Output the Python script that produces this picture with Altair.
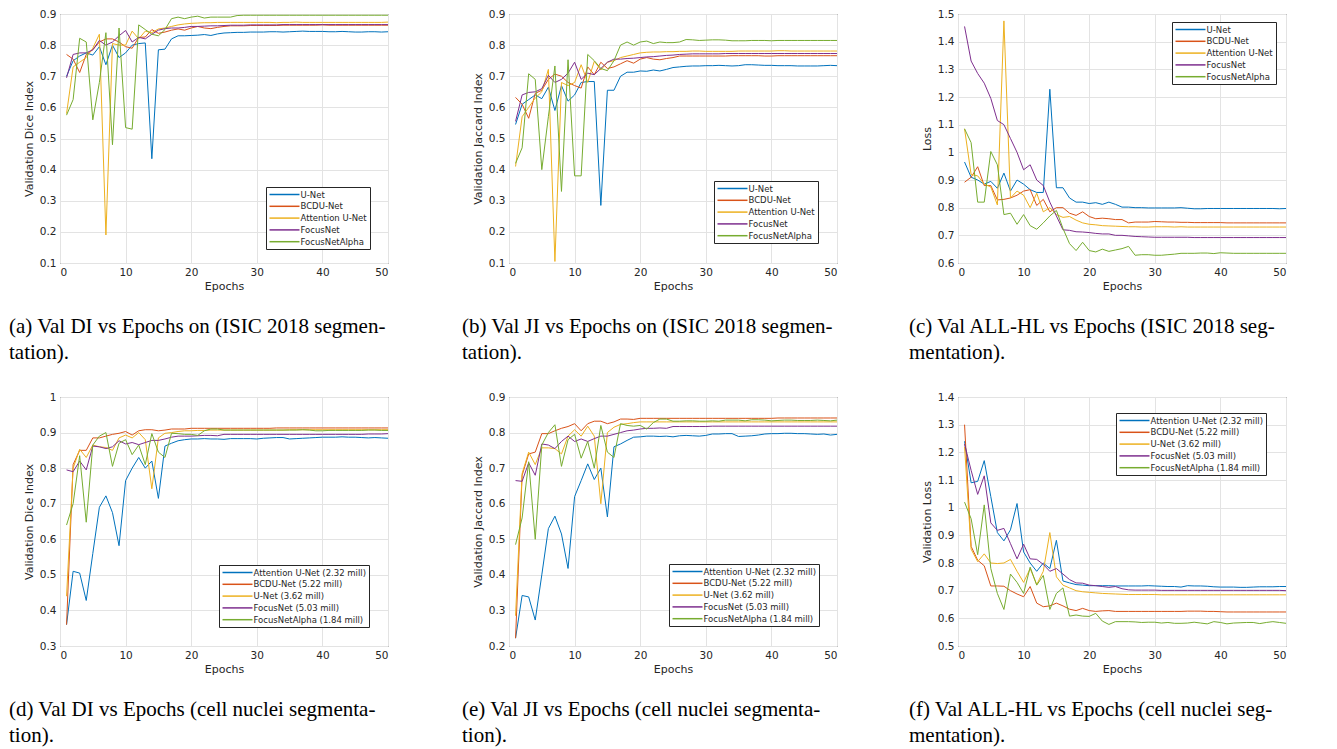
import altair as alt
import pandas as pd

epochs = list(range(1, 51))

# ---------------- (a) Val DI, ISIC 2018 ----------------
A_names = ["U-Net", "BCDU-Net", "Attention U-Net", "FocusNet", "FocusNetAlpha"]
A_unet = [0.70, 0.75, 0.765, 0.775, 0.768, 0.795, 0.737, 0.80, 0.76, 0.775,
          0.80, 0.805, 0.807, 0.435, 0.785, 0.787, 0.82, 0.83, 0.83, 0.831,
          0.832, 0.834, 0.831, 0.836, 0.839, 0.840, 0.841, 0.841, 0.842, 0.842,
          0.842, 0.843, 0.843, 0.842, 0.843, 0.844, 0.845, 0.844, 0.844, 0.844,
          0.843, 0.843, 0.844, 0.843, 0.842, 0.842, 0.843, 0.843, 0.842, 0.843]
A_bcdu = [0.77, 0.755, 0.712, 0.77, 0.785, 0.81, 0.82, 0.82, 0.81, 0.795,
          0.79, 0.825, 0.826, 0.85, 0.838, 0.842, 0.848, 0.852, 0.848, 0.855,
          0.86, 0.855, 0.853, 0.857, 0.86, 0.862, 0.862, 0.862, 0.863, 0.863,
          0.863, 0.863, 0.863, 0.864, 0.864, 0.864, 0.864, 0.864, 0.864, 0.865,
          0.864, 0.864, 0.864, 0.864, 0.864, 0.864, 0.864, 0.864, 0.864, 0.864]
A_att = [0.58, 0.73, 0.745, 0.76, 0.79, 0.835, 0.19, 0.805, 0.80, 0.80,
         0.845, 0.82, 0.845, 0.84, 0.852, 0.855, 0.86, 0.865, 0.868, 0.87,
         0.871, 0.872, 0.872, 0.873, 0.873, 0.873, 0.873, 0.873, 0.873, 0.873,
         0.873, 0.873, 0.872, 0.873, 0.873, 0.874, 0.873, 0.873, 0.873, 0.873,
         0.873, 0.873, 0.873, 0.873, 0.873, 0.873, 0.873, 0.873, 0.873, 0.874]
A_focus = [0.695, 0.77, 0.775, 0.775, 0.785, 0.815, 0.80, 0.81, 0.83, 0.847,
           0.81, 0.825, 0.82, 0.835, 0.848, 0.853, 0.855, 0.855, 0.857, 0.86,
           0.86, 0.861, 0.862, 0.862, 0.863, 0.864, 0.864, 0.864, 0.865, 0.865,
           0.865, 0.865, 0.865, 0.866, 0.866, 0.866, 0.866, 0.866, 0.866, 0.866,
           0.866, 0.866, 0.866, 0.866, 0.866, 0.866, 0.866, 0.866, 0.866, 0.866]
A_alpha = [0.575, 0.625, 0.822, 0.81, 0.56, 0.68, 0.84, 0.48, 0.855, 0.535,
           0.53, 0.865, 0.85, 0.835, 0.83, 0.85, 0.885, 0.89, 0.885, 0.89,
           0.893, 0.887, 0.89, 0.89, 0.89, 0.89, 0.895, 0.896, 0.896, 0.896,
           0.896, 0.896, 0.896, 0.896, 0.896, 0.896, 0.896, 0.896, 0.896, 0.896,
           0.896, 0.896, 0.896, 0.896, 0.896, 0.896, 0.896, 0.896, 0.896, 0.896]

# ---------------- (b) Val JI, ISIC 2018 ----------------
B_names = ["U-Net", "BCDU-Net", "Attention U-Net", "FocusNet", "FocusNetAlpha"]
B_unet = [0.545, 0.61, 0.625, 0.64, 0.628, 0.665, 0.59, 0.67, 0.62, 0.64,
          0.68, 0.683, 0.683, 0.285, 0.655, 0.655, 0.70, 0.713, 0.713, 0.717,
          0.716, 0.72, 0.717, 0.722, 0.728, 0.73, 0.732, 0.733, 0.733, 0.734,
          0.734, 0.735, 0.734, 0.733, 0.734, 0.737, 0.737, 0.736, 0.735, 0.735,
          0.734, 0.734, 0.734, 0.733, 0.733, 0.733, 0.733, 0.734, 0.735, 0.734]
B_bcdu = [0.632, 0.61, 0.565, 0.645, 0.655, 0.69, 0.707, 0.70, 0.68, 0.67,
          0.662, 0.73, 0.705, 0.745, 0.725, 0.73, 0.74, 0.75, 0.742, 0.755,
          0.76, 0.755, 0.753, 0.757, 0.76, 0.765, 0.765, 0.765, 0.765, 0.765,
          0.765, 0.765, 0.765, 0.766, 0.766, 0.766, 0.766, 0.766, 0.765, 0.765,
          0.766, 0.766, 0.766, 0.766, 0.766, 0.766, 0.766, 0.766, 0.766, 0.766]
B_att = [0.41, 0.57, 0.60, 0.63, 0.65, 0.722, 0.105, 0.68, 0.67, 0.68,
         0.737, 0.68, 0.748, 0.72, 0.745, 0.75, 0.76, 0.765, 0.77, 0.775,
         0.777, 0.778, 0.778, 0.779, 0.779, 0.78, 0.78, 0.781, 0.781, 0.78,
         0.78, 0.78, 0.78, 0.78, 0.781, 0.781, 0.781, 0.781, 0.781, 0.781,
         0.782, 0.782, 0.781, 0.781, 0.781, 0.781, 0.781, 0.781, 0.781, 0.781]
B_focus = [0.555, 0.64, 0.648, 0.65, 0.66, 0.703, 0.68, 0.69, 0.71, 0.745,
           0.69, 0.71, 0.705, 0.725, 0.745, 0.755, 0.755, 0.757, 0.758, 0.76,
           0.762, 0.763, 0.765, 0.767, 0.768, 0.77, 0.771, 0.772, 0.772, 0.772,
           0.772, 0.772, 0.773, 0.773, 0.773, 0.773, 0.773, 0.773, 0.773, 0.773,
           0.773, 0.773, 0.773, 0.773, 0.773, 0.773, 0.773, 0.773, 0.773, 0.773]
B_alpha = [0.42, 0.47, 0.708, 0.69, 0.40, 0.57, 0.733, 0.33, 0.753, 0.38,
           0.38, 0.77, 0.75, 0.725, 0.718, 0.75, 0.80, 0.81, 0.80, 0.81,
           0.813, 0.805, 0.81, 0.808, 0.808, 0.81, 0.818, 0.817, 0.815, 0.816,
           0.817, 0.817, 0.816, 0.814, 0.814, 0.814, 0.815, 0.815, 0.815, 0.814,
           0.815, 0.815, 0.815, 0.815, 0.815, 0.815, 0.815, 0.815, 0.815, 0.815]

# ---------------- (c) Val loss, ISIC 2018 ----------------
C_names = ["U-Net", "BCDU-Net", "Attention U-Net", "FocusNet", "FocusNetAlpha"]
C_unet = [0.965, 0.91, 0.90, 0.885, 0.895, 0.87, 0.925, 0.86, 0.90, 0.885,
          0.865, 0.855, 0.855, 1.228, 0.872, 0.872, 0.835, 0.82, 0.82, 0.815,
          0.818, 0.812, 0.82, 0.812, 0.802, 0.802, 0.80, 0.80, 0.799, 0.799,
          0.799, 0.799, 0.799, 0.80, 0.798, 0.796, 0.796, 0.797, 0.797, 0.797,
          0.797, 0.797, 0.797, 0.797, 0.797, 0.797, 0.797, 0.797, 0.796, 0.797]
C_bcdu = [0.892, 0.91, 0.948, 0.88, 0.88, 0.828, 0.83, 0.835, 0.845, 0.86,
          0.865, 0.808, 0.83, 0.785, 0.80, 0.80, 0.78, 0.772, 0.785, 0.768,
          0.76, 0.762, 0.76, 0.757, 0.757, 0.745, 0.748, 0.748, 0.748, 0.75,
          0.749, 0.748, 0.748, 0.747, 0.747, 0.746, 0.746, 0.746, 0.746, 0.746,
          0.745, 0.745, 0.745, 0.745, 0.745, 0.745, 0.745, 0.745, 0.745, 0.745]
C_att = [1.085, 0.92, 0.915, 0.885, 0.875, 0.81, 1.475, 0.835, 0.86, 0.845,
         0.80, 0.852, 0.785, 0.80, 0.775, 0.765, 0.768, 0.755, 0.745, 0.74,
         0.738, 0.735, 0.734, 0.733, 0.732, 0.731, 0.731, 0.73, 0.73, 0.731,
         0.731, 0.731, 0.73, 0.731, 0.73, 0.73, 0.73, 0.73, 0.73, 0.73,
         0.73, 0.73, 0.73, 0.73, 0.73, 0.73, 0.73, 0.73, 0.73, 0.73]
C_focus = [1.455, 1.33, 1.285, 1.25, 1.195, 1.115, 1.10, 1.05, 1.00, 0.937,
           0.955, 0.90, 0.88, 0.82, 0.77, 0.72, 0.718, 0.713, 0.712, 0.71,
           0.707, 0.705, 0.705, 0.70, 0.70, 0.698, 0.696, 0.695, 0.694, 0.693,
           0.693, 0.693, 0.693, 0.693, 0.693, 0.692, 0.692, 0.692, 0.692, 0.692,
           0.692, 0.692, 0.692, 0.692, 0.692, 0.692, 0.692, 0.692, 0.692, 0.692]
C_alpha = [1.085, 1.035, 0.82, 0.82, 1.003, 0.955, 0.775, 0.78, 0.74, 0.775,
           0.735, 0.722, 0.745, 0.77, 0.79, 0.725, 0.67, 0.645, 0.675, 0.645,
           0.64, 0.65, 0.642, 0.647, 0.652, 0.66, 0.628, 0.63, 0.63, 0.628,
           0.628, 0.63, 0.632, 0.635, 0.635, 0.635, 0.636, 0.636, 0.634, 0.637,
           0.636, 0.635, 0.635, 0.635, 0.635, 0.635, 0.635, 0.635, 0.635, 0.635]

# ---------------- (d) Val DI, cell nuclei ----------------
D_names = ["Attention U-Net (2.32 mill)", "BCDU-Net (5.22 mill)", "U-Net (3.62 mill)",
           "FocusNet (5.03 mill)", "FocusNetAlpha (1.84 mill)"]
D_att = [0.36, 0.51, 0.505, 0.428, 0.56, 0.69, 0.722, 0.675, 0.582, 0.765,
         0.80, 0.83, 0.80, 0.82, 0.715, 0.862, 0.87, 0.877, 0.88, 0.882,
         0.882, 0.883, 0.882, 0.882, 0.881, 0.883, 0.883, 0.883, 0.883, 0.882,
         0.884, 0.885, 0.886, 0.886, 0.882, 0.883, 0.884, 0.885, 0.886, 0.887,
         0.887, 0.887, 0.888, 0.887, 0.887, 0.886, 0.885, 0.886, 0.885, 0.884]
D_bcdu = [0.36, 0.81, 0.85, 0.85, 0.885, 0.885, 0.89, 0.895, 0.898, 0.903,
          0.893, 0.905, 0.908, 0.908, 0.905, 0.907, 0.91, 0.91, 0.91, 0.912,
          0.912, 0.912, 0.912, 0.912, 0.912, 0.912, 0.912, 0.912, 0.912, 0.912,
          0.912, 0.912, 0.913, 0.913, 0.913, 0.913, 0.913, 0.913, 0.913, 0.913,
          0.913, 0.913, 0.913, 0.913, 0.913, 0.913, 0.913, 0.913, 0.913, 0.913]
D_unet = [0.44, 0.80, 0.853, 0.83, 0.865, 0.86, 0.858, 0.85, 0.885, 0.893,
          0.885, 0.90, 0.88, 0.742, 0.885, 0.898, 0.90, 0.903, 0.905, 0.905,
          0.906, 0.906, 0.907, 0.907, 0.907, 0.907, 0.907, 0.907, 0.907, 0.907,
          0.907, 0.907, 0.907, 0.907, 0.908, 0.908, 0.908, 0.908, 0.908, 0.908,
          0.908, 0.908, 0.908, 0.908, 0.908, 0.908, 0.908, 0.908, 0.908, 0.908]
D_focus = [0.795, 0.79, 0.82, 0.795, 0.862, 0.86, 0.855, 0.86, 0.877, 0.868,
           0.872, 0.866, 0.872, 0.878, 0.878, 0.882, 0.887, 0.89, 0.89, 0.89,
           0.891, 0.892, 0.892, 0.891, 0.895, 0.895, 0.895, 0.895, 0.895, 0.895,
           0.895, 0.895, 0.895, 0.895, 0.895, 0.895, 0.895, 0.895, 0.895, 0.895,
           0.895, 0.895, 0.895, 0.895, 0.895, 0.895, 0.896, 0.896, 0.896, 0.897]
D_alpha = [0.64, 0.70, 0.835, 0.648, 0.865, 0.89, 0.90, 0.805, 0.87, 0.88,
           0.838, 0.865, 0.81, 0.897, 0.845, 0.83, 0.898, 0.897, 0.895, 0.895,
           0.892, 0.905, 0.91, 0.91, 0.907, 0.907, 0.907, 0.907, 0.907, 0.907,
           0.907, 0.907, 0.907, 0.907, 0.907, 0.907, 0.908, 0.907, 0.905, 0.905,
           0.906, 0.906, 0.906, 0.906, 0.906, 0.906, 0.907, 0.907, 0.906, 0.906]

# ---------------- (e) Val JI, cell nuclei ----------------
E_names = D_names
E_att = [0.222, 0.342, 0.338, 0.273, 0.40, 0.53, 0.565, 0.515, 0.418, 0.62,
         0.665, 0.712, 0.668, 0.70, 0.563, 0.76, 0.768, 0.778, 0.787, 0.788,
         0.79, 0.79, 0.789, 0.79, 0.788, 0.791, 0.792, 0.791, 0.79, 0.792,
         0.796, 0.796, 0.797, 0.797, 0.789, 0.79, 0.791, 0.793, 0.796, 0.797,
         0.797, 0.798, 0.798, 0.797, 0.797, 0.796, 0.795, 0.796, 0.793, 0.795]
E_bcdu = [0.222, 0.68, 0.74, 0.745, 0.797, 0.797, 0.805, 0.812, 0.817, 0.825,
          0.805, 0.825, 0.832, 0.832, 0.825, 0.83, 0.838, 0.838, 0.837, 0.84,
          0.84, 0.84, 0.84, 0.84, 0.84, 0.84, 0.84, 0.84, 0.84, 0.84,
          0.84, 0.84, 0.84, 0.84, 0.84, 0.84, 0.84, 0.84, 0.84, 0.84,
          0.841, 0.841, 0.841, 0.841, 0.841, 0.841, 0.841, 0.841, 0.841, 0.841]
E_unet = [0.285, 0.685, 0.745, 0.71, 0.757, 0.757, 0.755, 0.74, 0.79, 0.808,
          0.79, 0.818, 0.79, 0.60, 0.80, 0.815, 0.823, 0.825, 0.828, 0.83,
          0.83, 0.83, 0.83, 0.83, 0.83, 0.83, 0.83, 0.83, 0.83, 0.83,
          0.83, 0.83, 0.83, 0.83, 0.83, 0.83, 0.83, 0.83, 0.83, 0.83,
          0.83, 0.83, 0.83, 0.83, 0.83, 0.83, 0.83, 0.83, 0.83, 0.83]
E_focus = [0.665, 0.663, 0.715, 0.68, 0.768, 0.765, 0.755, 0.775, 0.79, 0.775,
           0.782, 0.775, 0.783, 0.79, 0.79, 0.795, 0.80, 0.805, 0.807, 0.81,
           0.812, 0.812, 0.813, 0.812, 0.817, 0.817, 0.817, 0.817, 0.817, 0.817,
           0.818, 0.818, 0.818, 0.818, 0.818, 0.818, 0.818, 0.818, 0.818, 0.818,
           0.818, 0.818, 0.818, 0.818, 0.818, 0.818, 0.818, 0.818, 0.818, 0.818]
E_alpha = [0.485, 0.56, 0.718, 0.50, 0.765, 0.80, 0.822, 0.705, 0.78, 0.795,
           0.728, 0.775, 0.70, 0.82, 0.745, 0.73, 0.825, 0.82, 0.818, 0.82,
           0.81, 0.828, 0.838, 0.838, 0.832, 0.832, 0.833, 0.833, 0.832, 0.832,
           0.833, 0.832, 0.835, 0.835, 0.835, 0.833, 0.836, 0.836, 0.835, 0.833,
           0.834, 0.835, 0.835, 0.834, 0.834, 0.834, 0.835, 0.834, 0.833, 0.835]

# ---------------- (f) Val loss, cell nuclei ----------------
F_names = D_names
F_att = [1.24, 1.09, 1.095, 1.17, 1.04, 0.91, 0.88, 0.92, 1.015, 0.84,
         0.80, 0.77, 0.80, 0.78, 0.882, 0.735, 0.728, 0.722, 0.72, 0.718,
         0.718, 0.718, 0.718, 0.717, 0.717, 0.717, 0.717, 0.717, 0.718, 0.717,
         0.716, 0.715, 0.715, 0.713, 0.718, 0.717, 0.717, 0.716, 0.714, 0.713,
         0.713, 0.713, 0.712, 0.712, 0.713, 0.714, 0.714, 0.714, 0.715, 0.715]
F_bcdu = [1.30, 0.86, 0.81, 0.79, 0.717, 0.717, 0.716, 0.70, 0.688, 0.678,
          0.715, 0.655, 0.642, 0.645, 0.655, 0.645, 0.633, 0.628, 0.636, 0.628,
          0.625, 0.627, 0.628, 0.625, 0.625, 0.625, 0.625, 0.625, 0.625, 0.625,
          0.625, 0.625, 0.625, 0.625, 0.626, 0.626, 0.626, 0.625, 0.625, 0.624,
          0.623, 0.623, 0.623, 0.623, 0.623, 0.623, 0.623, 0.623, 0.623, 0.623]
F_unet = [1.22, 0.85, 0.805, 0.833, 0.80, 0.798, 0.80, 0.813, 0.77, 0.73,
          0.78, 0.722, 0.77, 0.91, 0.75, 0.72, 0.71, 0.70, 0.696, 0.694,
          0.692, 0.69, 0.689, 0.688, 0.687, 0.686, 0.686, 0.686, 0.686, 0.686,
          0.685, 0.685, 0.685, 0.685, 0.685, 0.685, 0.685, 0.685, 0.685, 0.685,
          0.685, 0.685, 0.685, 0.685, 0.685, 0.685, 0.685, 0.685, 0.685, 0.685]
F_focus = [1.23, 1.135, 1.048, 1.115, 0.945, 0.918, 0.925, 0.87, 0.815, 0.868,
           0.815, 0.813, 0.795, 0.77, 0.78, 0.76, 0.74, 0.728, 0.727, 0.72,
           0.718, 0.715, 0.712, 0.715, 0.707, 0.703, 0.702, 0.702, 0.702, 0.702,
           0.701, 0.701, 0.701, 0.701, 0.701, 0.701, 0.701, 0.701, 0.701, 0.701,
           0.701, 0.701, 0.701, 0.701, 0.701, 0.701, 0.701, 0.701, 0.701, 0.70]
F_alpha = [1.02, 0.96, 0.83, 1.01, 0.78, 0.69, 0.632, 0.76, 0.73, 0.69,
           0.785, 0.72, 0.755, 0.632, 0.69, 0.71, 0.608, 0.612, 0.608, 0.607,
           0.618, 0.59, 0.578, 0.588, 0.588, 0.588, 0.587, 0.585, 0.586, 0.586,
           0.583, 0.585, 0.582, 0.582, 0.583, 0.586, 0.583, 0.58, 0.588, 0.585,
           0.58, 0.583, 0.584, 0.585, 0.585, 0.581, 0.585, 0.588, 0.585, 0.582]

COLORS = ["#0072BD", "#D95319", "#EDB120", "#7E2F8E", "#77AC30"]
AX_FONT = "DejaVu Sans"
TXT = "#262626"


def panel(names, series, ytitle, ydom, yticks, lx, ly, caption, cdx):
    rows = []
    for name, vals in zip(names, series):
        assert len(vals) == 50
        for e, v in zip(epochs, vals):
            rows.append({"Epoch": e, "Value": v, "Model": name})
    df = pd.DataFrame(rows)
    return alt.Chart(df).mark_line(strokeWidth=1.0).encode(
        x=alt.X("Epoch:Q",
                scale=alt.Scale(domain=[0, 50], nice=False),
                axis=alt.Axis(values=[0, 10, 20, 30, 40, 50], title="Epochs")),
        y=alt.Y("Value:Q",
                scale=alt.Scale(domain=ydom, nice=False, zero=False),
                axis=alt.Axis(values=yticks, format="~g", title=ytitle)),
        color=alt.Color("Model:N", sort=names,
                        scale=alt.Scale(domain=names, range=COLORS),
                        legend=alt.Legend(title=None, orient="none",
                                          legendX=lx, legendY=ly)),
        detail="Model:N",
    ).properties(
        width=328, height=249,
        title=alt.TitleParams(text=caption, orient="bottom", anchor="start",
                              frame="group", align="left", dx=cdx, offset=24,
                              font="Liberation Serif", fontSize=21,
                              fontWeight="normal", color="black",
                              lineHeight=26),
    )


t01_09 = [0.1, 0.2, 0.3, 0.4, 0.5, 0.6, 0.7, 0.8, 0.9]

pa = panel(A_names, [A_unet, A_bcdu, A_att, A_focus, A_alpha],
           "Validation Dice Index", [0.1, 0.9], t01_09, 206, 173,
           ["(a) Val DI vs Epochs on (ISIC 2018 segmen-", "tation)."], -51)
pb = panel(B_names, [B_unet, B_bcdu, B_att, B_focus, B_alpha],
           "Validation Jaccard Index", [0.1, 0.9], t01_09, 205, 167,
           ["(b) Val JI vs Epochs on (ISIC 2018 segmen-", "tation)."], -47)
pc = panel(C_names, [C_unet, C_bcdu, C_att, C_focus, C_alpha],
           "Loss", [0.6, 1.5], [0.6, 0.7, 0.8, 0.9, 1.0, 1.1, 1.2, 1.3, 1.4, 1.5],
           214, 8,
           ["(c) Val ALL-HL vs Epochs (ISIC 2018 seg-", "mentation)."], -49)
pd_ = panel(D_names, [D_att, D_bcdu, D_unet, D_focus, D_alpha],
            "Validation Dice Index", [0.3, 1.0], [0.3, 0.4, 0.5, 0.6, 0.7, 0.8, 0.9, 1.0],
            159, 168,
            ["(d) Val DI vs Epochs (cell nuclei segmenta-", "tion)."], -51)
pe = panel(E_names, [E_att, E_bcdu, E_unet, E_focus, E_alpha],
           "Validation Jaccard Index", [0.2, 0.9], [0.2, 0.3, 0.4, 0.5, 0.6, 0.7, 0.8, 0.9],
           160, 167,
           ["(e) Val JI vs Epochs (cell nuclei segmenta-", "tion)."], -47)
pf = panel(F_names, [F_att, F_bcdu, F_unet, F_focus, F_alpha],
           "Validation Loss", [0.5, 1.4], [0.5, 0.6, 0.7, 0.8, 0.9, 1.0, 1.1, 1.2, 1.3, 1.4],
           158, 16,
           ["(f) Val ALL-HL vs Epochs (cell nuclei seg-", "mentation)."], -49)

chart = alt.concat(
    pa, pb, pc, pd_, pe, pf, columns=3,
    spacing={"row": 134, "column": 121},
    bounds="flush",
).resolve_scale(
    color="independent", x="independent", y="independent"
).resolve_legend(
    color="independent"
).properties(
    padding={"left": 0, "top": 0, "right": 5, "bottom": 5},
    background="white",
).configure_view(
    stroke=TXT, strokeWidth=1, fill="white"
).configure_axis(
    grid=True, gridColor="#e3e3e3", gridWidth=1,
    domain=False, ticks=False,
    labelFont=AX_FONT, labelFontSize=10.5, labelColor=TXT, labelPadding=4,
    titleFont=AX_FONT, titleFontSize=11, titleColor=TXT,
    titleFontWeight="normal",
).configure_axisY(
    titlePadding=5
).configure_axisX(
    titlePadding=3
).configure_legend(
    fillColor="white", strokeColor=TXT, padding=2.5, cornerRadius=0,
    labelFont=AX_FONT, labelFontSize=8.5, labelColor=TXT,
    symbolType="M-1,0H6.5", symbolSize=64, symbolStrokeWidth=1.5,
    labelOffset=22, rowPadding=1.8,
)

chart.save("out.html", embed_options={"renderer": "svg", "actions": False})
